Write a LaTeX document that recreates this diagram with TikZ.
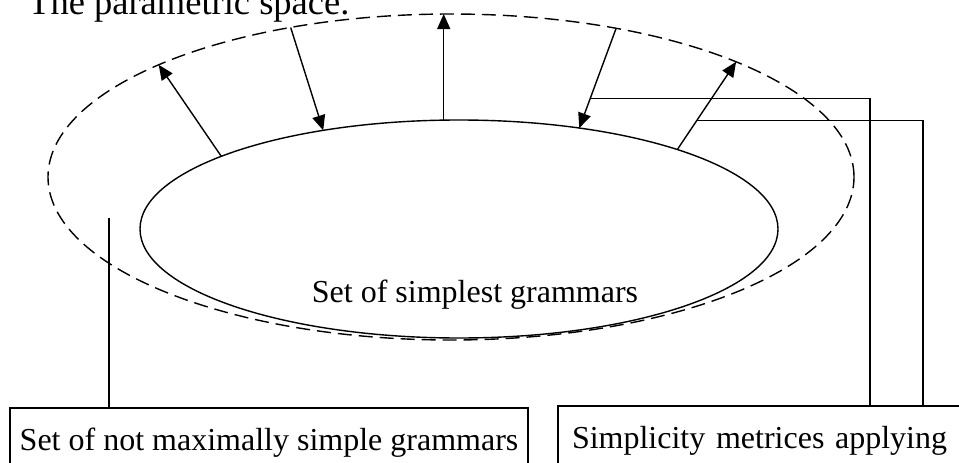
\documentclass[tikz,border=0pt]{standalone}
\usepackage{fontspec}
\setmainfont{Liberation Serif}
\usetikzlibrary{arrows.meta, shapes.geometric}

\begin{document}
\begin{tikzpicture}[x=1pt, y=-1pt,
    every node/.style={font=\fontsize{32}{38}\selectfont},
    set/.style={ellipse, draw, line width=1.4pt, inner sep=0pt, outer sep=0pt},
    box/.style={rectangle, draw, line width=1.2pt, anchor=north west, outer sep=0pt,
        inner ysep=20pt, text height=22pt, text depth=40pt},
    arr/.style={-{Triangle[length=15pt, width=13pt]}, line width=1.4pt},
    link/.style={line width=1.2pt}
    ]
    \useasboundingbox (0,0) rectangle (959,463);
    \clip (0,0) rectangle (959,463);
    \node[anchor=base west, inner sep=0pt, font=\fontsize{36.5}{42}\selectfont] (title) at (28,15) {The parametric space.};
    % the two sets
    \node[set, dashed, dash pattern=on 14pt off 7pt, minimum width=806pt, minimum height=326pt] (space) at (451,177) {};
    \node[set, minimum width=638pt, minimum height=218pt] (simplest) at (459,229) {};
    \node[anchor=base] (simplestlbl) at (475,302) {Set of simplest grammars};
    % legend boxes
    \node[box, minimum width=518pt, inner xsep=8pt] (notsimple) at (10,408) {Set of not maximally simple grammars};
    \node[box, text width=430pt, align=left, inner xsep=14pt] (metrics) at (558,406) {Simplicity metrices applying};
    % arrows between the sets
    \draw[arr] (simplest.163) -- (space.159);
    \draw[arr] (space.137) -- (simplest.144);
    \draw[arr] (simplest.98) -- (simplest.98 |- space.north);
    \draw[arr] (space.42) -- coordinate[pos=0.7] (hookA) (simplest.40);
    \draw[arr] (simplest.20) -- coordinate[pos=0.33] (hookB) (space.22);
    % links to the boxes
    \draw[link] (hookA) -| ([xshift=312pt]metrics.north west);
    \draw[link] (hookB) -| ([xshift=365pt]metrics.north west);
    \coordinate (notmaxpt) at (109,218);
    \draw[link] (notmaxpt) -- (notmaxpt |- notsimple.north);
\end{tikzpicture}
\end{document}
